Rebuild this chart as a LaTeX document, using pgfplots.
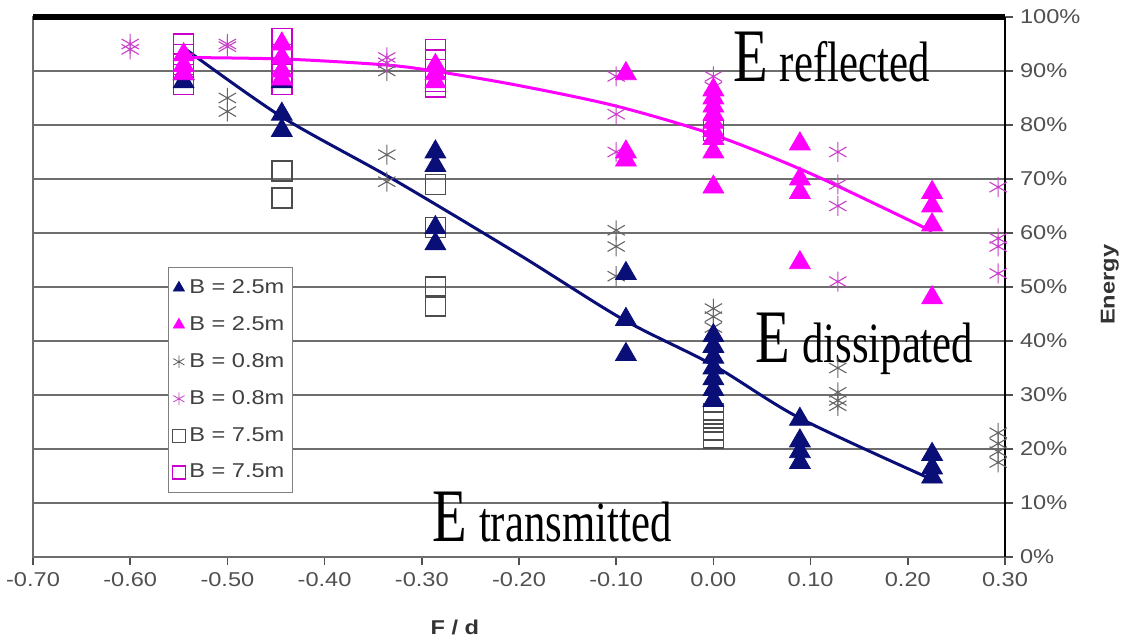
\documentclass[border=0pt]{standalone}
\usepackage{pgfplots}
\pgfplotsset{compat=1.18}
\usepackage{graphicx}
\usepackage{fontspec}
\setmainfont{Liberation Sans}[FakeStretch=1.18]
\newfontfamily\tnr{Liberation Serif}
\definecolor{navy}{HTML}{0A0F78}
\definecolor{mag}{HTML}{FF00FF}
\definecolor{lmag}{HTML}{C840C8}
\definecolor{sqmag}{HTML}{D050D0}
\definecolor{tickgray}{HTML}{505050}
\definecolor{gridgray}{HTML}{6E6E6E}

\pgfplotstableread{
x y
-0.545 88
-0.545 89.5
-0.444 88
-0.444 82
-0.444 79
-0.286 75
-0.286 72.5
-0.286 61
-0.286 58
-0.09 52.5
-0.09 44
-0.09 37.5
0.00 41
0.00 39
0.00 37
0.00 35
0.00 33
0.00 31
0.00 29
0.089 25.5
0.089 21.5
0.089 19.5
0.089 17.5
0.225 19
0.225 16.5
0.225 14.8
}\navytri

\pgfplotstableread{
x y
-0.545 93
-0.545 91
-0.545 89.5
-0.444 95
-0.444 92.5
-0.444 90
-0.444 88.5
-0.286 91
-0.286 89.5
-0.286 88
-0.09 89.5
-0.09 75
-0.09 73.5
0.00 86.5
0.00 85
0.00 83.5
0.00 82
0.00 80.5
0.00 79
0.00 77.5
0.00 75
0.00 68.5
0.089 76.5
0.089 70
0.089 67.5
0.089 54.5
0.225 67.5
0.225 65
0.225 61.5
0.225 48
}\magtri

\pgfplotstableread{
x y
-0.50 85
-0.50 82.5
-0.336 90
-0.336 74.5
-0.336 69.5
-0.10 60.5
-0.10 57.5
-0.10 52
0.00 46
0.00 44.5
0.00 42.5
0.128 35
0.128 30.5
0.128 29
0.128 28
0.293 23
0.293 21
0.293 19.5
0.293 17.5
}\blkast

\pgfplotstableread{
x y
-0.60 95
-0.60 94
-0.50 95
-0.50 94.5
-0.336 92.5
-0.336 91.5
-0.10 89
-0.10 82
-0.10 75
0.00 89
0.00 87
0.128 75
0.128 69
0.128 65
0.128 51
0.293 68.5
0.293 59
0.293 57.5
0.293 52.5
}\magast

\pgfplotstableread{
x y
-0.444 71.5
-0.444 66.5
-0.286 69
-0.286 61
-0.286 50
-0.286 46.5
0.00 26.5
0.00 25
0.00 23.5
0.00 22
}\blksq

\pgfplotstableread{
x y
-0.545 95
-0.545 93
-0.545 90.5
-0.545 87.5
-0.444 96
-0.444 93
-0.444 89.5
-0.444 87.5
-0.286 94
-0.286 92
-0.286 88
-0.286 87
0.00 79
}\magsq

\begin{document}
\begin{tikzpicture}
\useasboundingbox (-16.5pt,-41.5pt) rectangle (545.5pt,278.5pt);
\begin{axis}[
  at={(0,0)}, anchor=south west,
  scale only axis, width=486pt, height=270pt,
  clip=false,
  xmin=-0.70, xmax=0.30, ymin=0, ymax=100,
  xtick={-0.7,-0.6,-0.5,-0.4,-0.3,-0.2,-0.1,0,0.1,0.2,0.3},
  xticklabels={-0.70,-0.60,-0.50,-0.40,-0.30,-0.20,-0.10,0.00,0.10,0.20,0.30},
  ytick={0,10,20,30,40,50,60,70,80,90,100},
  yticklabels={0\%,10\%,20\%,30\%,40\%,50\%,60\%,70\%,80\%,90\%,100\%},
  xtick pos=left, ytick pos=right, yticklabel pos=right,
  tick align=outside, major tick length=4pt,
  tick style={tickgray, line width=0.8pt},
  ticklabel style={font=\fontsize{10}{12}\selectfont, text=tickgray},
  axis line style={gridgray, line width=0.8pt},
  ymajorgrids, major grid style={gridgray, line width=0.8pt},
  legend style={at={(axis description cs:0.139,0.537)}, anchor=north west,
    draw=gray, fill=white, font=\fontsize{10}{12}\selectfont, text=black!75,
    row sep=6pt, inner xsep=2pt, inner ysep=4pt, cells={anchor=west}},
  legend image code/.code={\draw[mark size=3.2pt] plot coordinates {(0.12cm,0cm)};},
]
\addlegendimage{only marks, mark=triangle*, color=navy}
\addlegendentry{B = 2.5m}
\addlegendimage{only marks, mark=triangle*, color=mag}
\addlegendentry{B = 2.5m}
\addlegendimage{only marks, mark=asterisk, color=black!65}
\addlegendentry{B = 0.8m}
\addlegendimage{only marks, mark=asterisk, color=lmag}
\addlegendentry{B = 0.8m}
\addlegendimage{only marks, mark=square, color=black!70}
\addlegendentry{B = 7.5m}

\addplot[only marks, mark=square, mark size=5pt, color=mag!80!black, mark options={line width=0.7pt}] table {\magsq};
\addlegendentry{B = 7.5m}
\addplot[forget plot, only marks, mark=square, mark size=5pt, color=black!70, mark options={line width=0.7pt}] table {\blksq};
\addplot[forget plot, only marks, mark=asterisk, mark size=5pt, color=black!60, mark options={line width=0.55pt}] table {\blkast};
\addplot[forget plot, only marks, mark=asterisk, mark size=5pt, color=lmag, mark options={line width=0.55pt}] table {\magast};
\addplot[forget plot, only marks, mark=triangle*, mark size=6pt, color=navy] table {\navytri};
\addplot[forget plot, only marks, mark=triangle*, mark size=6pt, color=mag] table {\magtri};

\addplot[forget plot, navy, line width=1.5pt, smooth] coordinates {
(-0.545,94.3) (-0.444,81.5) (-0.33,70) (-0.2,56) (-0.093,44) (0.0,35.5) (0.089,25.7) (0.223,14.5)};
\addplot[forget plot, mag, line width=1.5pt, smooth] coordinates {
(-0.545,92.5) (-0.44,92.2) (-0.336,91.1) (-0.284,89.9) (-0.2,87.3) (-0.10,83.5) (0.00,78.2) (0.10,71) (0.225,60.3)};

\draw[black, line width=3pt] (rel axis cs:0,1) -- (rel axis cs:1,1);
\draw[black, line width=1pt] (rel axis cs:1,0) -- (rel axis cs:1,1);

\node[anchor=base west, inner sep=0pt, font=\tnr] at (axis cs:0.02,88)
  {\scalebox{0.75}[1]{\fontsize{37.8}{40}\selectfont E\hspace{8pt}\fontsize{28.5}{30}\selectfont reflected}};
\node[anchor=base west, inner sep=0pt, font=\tnr] at (axis cs:0.043,36.1)
  {\scalebox{0.75}[1]{\fontsize{37.8}{40}\selectfont E\hspace{8pt}\fontsize{28.5}{30}\selectfont dissipated}};
\node[anchor=base west, inner sep=0pt, font=\tnr] at (axis cs:-0.2895,2.8)
  {\scalebox{0.75}[1]{\fontsize{37.8}{40}\selectfont E\hspace{8pt}\fontsize{28.5}{30}\selectfont transmitted}};

\node[font=\bfseries\fontsize{10}{12}\selectfont, text=black!80] at (rel axis cs:0.434,-0.131) {F / d};
\node[rotate=90, font=\bfseries\fontsize{10}{12}\selectfont, text=black!80] at (rel axis cs:1.108,0.504) {Energy};
\end{axis}
\end{tikzpicture}
\end{document}
